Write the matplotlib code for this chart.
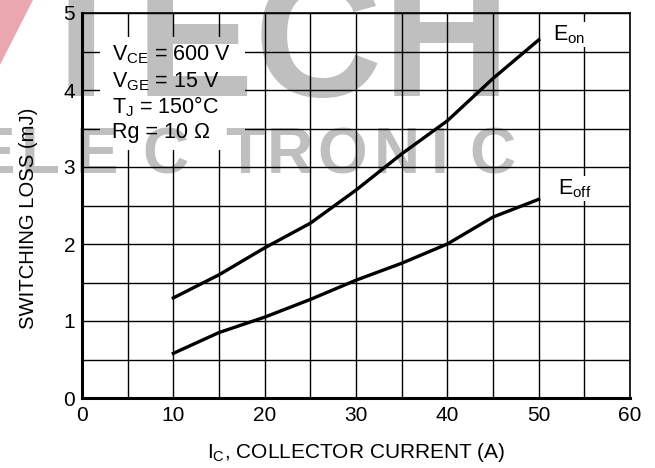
import matplotlib
matplotlib.use("Agg")
import matplotlib.pyplot as plt
from matplotlib.patches import Rectangle, Polygon
from matplotlib.ticker import MultipleLocator

plt.rcParams['font.family'] = ['Liberation Sans', 'DejaVu Sans']
plt.rcParams['mathtext.fontset'] = 'custom'
plt.rcParams['mathtext.rm'] = 'Liberation Sans'
plt.rcParams['mathtext.it'] = 'Liberation Sans:italic'

# Data
ic = [10, 15, 20, 25, 30, 35, 40, 45, 50]
e_on = [1.30, 1.60, 1.95, 2.27, 2.70, 3.17, 3.60, 4.15, 4.65]
e_off = [0.58, 0.85, 1.05, 1.28, 1.53, 1.75, 2.00, 2.35, 2.58]
x_ticks = [0, 10, 20, 30, 40, 50, 60]
y_ticks = [0, 1, 2, 3, 4, 5]
conditions = [r'V$_{\mathregular{CE}}$ = 600 V',
              r'V$_{\mathregular{GE}}$ = 15 V',
              r'T$_{\mathregular{J}}$ = 150°C',
              r'Rg = 10 Ω']

W, H = 655, 468
fig = plt.figure(figsize=(W / 100, H / 100), dpi=100)
ax = fig.add_axes([82 / W, 70 / H, 548 / W, 385 / H])
ax.set_facecolor('none')

ax.set_xlim(0, 60)
ax.set_ylim(0, 5)
ax.set_xticks(x_ticks)
ax.set_yticks(y_ticks)
ax.xaxis.set_minor_locator(MultipleLocator(5))
ax.yaxis.set_minor_locator(MultipleLocator(0.5))
ax.set_axisbelow(True)
ax.grid(True, which='both', color='black', linewidth=1.0)
ax.tick_params(which='both', length=0, labelsize=15)
ax.tick_params(axis='x', pad=6)
ax.tick_params(axis='y', pad=5)

for s in ['left', 'bottom']:
    ax.spines[s].set_linewidth(2.2)
for s in ['top', 'right']:
    ax.spines[s].set_linewidth(1.2)

# white box behind conditions text
ax.add_patch(Rectangle((2.0, 3.22), 15.8, 1.47, facecolor='white',
                       edgecolor='none', zorder=1.5))

ax.plot(ic, e_on, color='black', linewidth=2.4, zorder=3)
ax.plot(ic, e_off, color='black', linewidth=2.4, zorder=3)

ys = [4.39, 4.04, 3.70, 3.38]
for t, yy in zip(conditions, ys):
    ax.text(3.3, yy, t, fontsize=15.5, ha='left', va='baseline', zorder=4)

ax.text(51.6, 4.65, r'E$_{\mathregular{on}}$', fontsize=15.5, va='baseline',
        zorder=4, bbox=dict(facecolor='white', edgecolor='none', pad=1))
ax.text(52.1, 2.65, r'E$_{\mathregular{off}}$', fontsize=15.5, va='baseline',
        zorder=4, bbox=dict(facecolor='white', edgecolor='none', pad=1))

ax.set_xlabel(r'I$_{\mathregular{C}}$, COLLECTOR CURRENT (A)', fontsize=15)
ax.xaxis.label.set_verticalalignment('baseline')
ax.xaxis.set_label_coords(356 / W, 1 - 458 / H, transform=fig.transFigure)
ax.set_ylabel('SWITCHING LOSS (mJ)', fontsize=14.6)
ax.yaxis.set_label_coords(19 / W, 1 - 218 / H, transform=fig.transFigure)
ax.yaxis.label.set_verticalalignment('top')

# watermark overlay
fig.text(27 / W, 1 - 96 / H, 'TECH', fontsize=128, fontweight='bold',
         color='black', alpha=0.25, ha='left', va='baseline', zorder=10)
letters = ['E', 'L', 'E', 'C', 'T', 'R', 'O', 'N', 'I', 'C']
centers = [-6, 40, 97, 165, 245, 290, 342, 397, 440, 492]
for ch, cx in zip(letters, centers):
    fig.text(cx / W, 1 - 173 / H, ch, fontsize=46, fontweight='bold',
             color='black', alpha=0.25, ha='center', va='baseline', zorder=10)
fig.patches.append(Polygon([(0, 1), (33 / W, 1), (0, 1 - 65 / H)], closed=True,
                           transform=fig.transFigure, facecolor='#eba7b0',
                           edgecolor='none', zorder=10))

fig.savefig('out.png', dpi=100)
